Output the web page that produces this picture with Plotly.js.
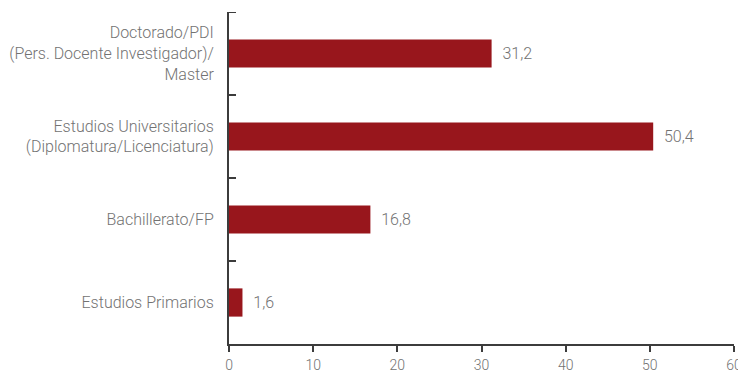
<!DOCTYPE html>
<html>
<head>
<meta charset="utf-8">
<script src="https://cdn.plot.ly/plotly-3.0.1.min.js"></script>
<style>
  html, body { margin: 0; padding: 0; background: #fff; overflow: hidden; }
  #chart { width: 738px; height: 372px; }
</style>
</head>
<body>
<div id="chart"></div>
<script>
// Nivel de estudios (%), de abajo hacia arriba
const categories = [
  'Estudios Primarios',
  'Bachillerato/FP',
  'Estudios Universitarios<br>(Diplomatura/Licenciatura)',
  'Doctorado/PDI<br>(Pers. Docente Investigador)/<br>Master'
];
const values = [1.6, 16.8, 50.4, 31.2];
const xTicks = [0, 10, 20, 30, 40, 50, 60];

const textGrey = '#727272';
const axisGrey = '#3c3c3c';
const fontFamily = 'Roboto, "Open Sans", sans-serif';

const trace = {
  type: 'bar',
  orientation: 'h',
  x: values,
  y: categories,
  marker: { color: '#98161c' },
  texttemplate: '  %{x:.1f}',
  textposition: 'outside',
  cliponaxis: false,
  textfont: { family: fontFamily, size: 16, color: textGrey, weight: 300 },
  hoverinfo: 'skip'
};

const layout = {
  width: 738,
  height: 372,
  margin: { l: 229, r: 4, t: 12, b: 28 },
  paper_bgcolor: '#fff',
  plot_bgcolor: '#fff',
  separators: ',.',
  showlegend: false,
  bargap: 0.66,
  font: { family: fontFamily, color: textGrey, size: 16, weight: 300 },
  xaxis: {
    range: [0, 60],
    tickvals: xTicks,
    ticktext: xTicks.map(String),
    showgrid: false,
    zeroline: false,
    showline: true,
    linecolor: axisGrey,
    linewidth: 2,
    ticks: 'outside',
    ticklen: 6,
    tickwidth: 2,
    tickcolor: axisGrey,
    ticklabelstandoff: 1,
    ticklabeloverflow: 'allow',
    tickfont: { family: fontFamily, size: 14, color: textGrey, weight: 300 },
    fixedrange: true
  },
  yaxis: {
    type: 'category',
    categoryorder: 'array',
    categoryarray: categories,
    range: [-0.5, 3.5],
    showgrid: false,
    zeroline: false,
    showline: true,
    linecolor: axisGrey,
    linewidth: 2,
    ticks: 'inside',
    tickson: 'boundaries',
    ticklen: 7,
    tickwidth: 2,
    tickcolor: axisGrey,
    ticklabelstandoff: 10,
    tickfont: { family: fontFamily, size: 16, color: textGrey, weight: 300 },
    fixedrange: true
  },
  // closing tick at the top end of the category axis
  shapes: [{
    type: 'line',
    xref: 'x', yref: 'y',
    xsizemode: 'pixel', xanchor: 0,
    x0: 0, x1: 7,
    y0: 3.5, y1: 3.5,
    line: { color: axisGrey, width: 2 },
    layer: 'above'
  }]
};

Plotly.newPlot('chart', [trace], layout, { displayModeBar: false, staticPlot: true });
</script>
</body>
</html>
